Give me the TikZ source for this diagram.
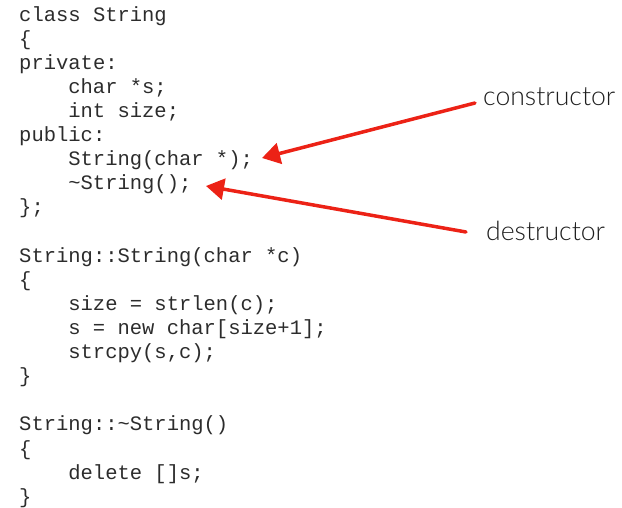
\documentclass[tikz,border=0pt]{standalone}
\usepackage{fontspec}
\newfontfamily\codefont{Liberation Mono}
\IfFontExistsTF{Lato Light}
  {\newfontfamily\notefont{Lato Light}}
  {\newfontfamily\notefont{Lato}}
\usetikzlibrary{arrows.meta}
\definecolor{penred}{RGB}{236,34,22}
\definecolor{ink}{RGB}{44,44,44}
\definecolor{noteink}{RGB}{30,30,30}
\begin{document}
\begin{tikzpicture}[x=1pt,y=-1pt,
  code/.style={anchor=base west, inner sep=0pt,
    font=\codefont\fontsize{20.5}{24}\selectfont, text=ink},
  note/.style={anchor=base west, inner sep=0pt,
    font=\notefont\fontsize{26.6}{30}\selectfont, text=noteink},
  pointer/.style={draw=penred, line width=3.5pt, line cap=round,
    -{Triangle[length=18pt,width=21pt,fill=penred]}}]
\useasboundingbox (0,0) rectangle (622,508);

% class declaration
\node[code] (l1)  at (19,  21.2) {class String};
\node[code] (l2)  at (19,  45.3) {\{};
\node[code] (l3)  at (19,  69.4) {private:};
\node[code] (l4)  at (68.2,93.5) {char *s;};
\node[code] (l5)  at (68.2,117.6) {int size;};
\node[code] (l6)  at (19, 141.7) {public:};
\node[code] (l7)  at (68.2,165.8) {String(char *);};
\node[code] (l8)  at (68.2,189.9) {\textasciitilde String();};
\node[code] (l9)  at (19, 214.0) {\};};

% constructor definition
\node[code] (l11) at (19, 262.2) {String::String(char *c)};
\node[code] (l12) at (19, 286.3) {\{};
\node[code] (l13) at (68.2,310.4) {size = strlen(c);};
\node[code] (l14) at (68.2,334.5) {s = new char[size+1];};
\node[code] (l15) at (68.2,358.6) {strcpy(s,c);};
\node[code] (l16) at (19, 382.7) {\}};

% destructor definition
\node[code] (l18) at (19, 430.9) {String::\textasciitilde String()};
\node[code] (l19) at (19, 455.0) {\{};
\node[code] (l20) at (68.2,479.1) {delete []s;};
\node[code] (l21) at (19, 503.2) {\}};

% annotations
\node[note] (ctor) at (483,106) {constructor};
\node[note] (dtor) at (486,241) {destructor};

\coordinate (ctorfrom) at (475,103);
\coordinate (ctortip)  at (262,158);
\coordinate (dtorfrom) at (466,232);
\coordinate (dtortip)  at (206,186);

\draw[pointer] (ctorfrom) -- (ctortip);
\draw[pointer] (dtorfrom) -- (dtortip);
\end{tikzpicture}
\end{document}
